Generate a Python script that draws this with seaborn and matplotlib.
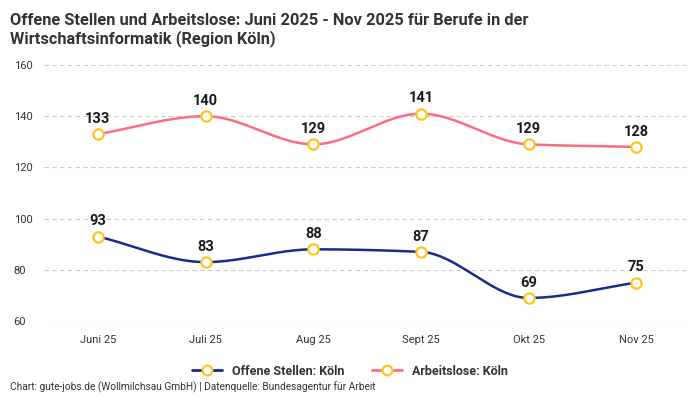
import numpy as np
import pandas as pd
import matplotlib
matplotlib.use("Agg")
import matplotlib.pyplot as plt
from matplotlib.lines import Line2D
import seaborn as sns

months = ["Juni 25", "Juli 25", "Aug 25", "Sept 25", "Okt 25", "Nov 25"]
offene_stellen = [93, 83, 88, 87, 69, 75]
arbeitslose = [133, 140, 129, 141, 129, 128]
series_names = ["Offene Stellen: Köln", "Arbeitslose: Köln"]
series_colors = ["#1b2a8f", "#ff6b86"]
marker_edge = "#ffc61a"


def monotone_curve(y, n=40):
    # Fritsch-Carlson monotone cubic, like a "smooth" line in web charts
    y = np.asarray(y, dtype=float)
    x = np.arange(len(y), dtype=float)
    d = np.diff(y)
    m = np.zeros_like(y)
    m[0], m[-1] = d[0], d[-1]
    for i in range(1, len(y) - 1):
        if d[i - 1] * d[i] <= 0:
            m[i] = 0
        else:
            m[i] = 2 / (1 / d[i - 1] + 1 / d[i])
    xs, ys = [], []
    for i in range(len(y) - 1):
        t = np.linspace(0, 1, n)
        h00 = 2 * t**3 - 3 * t**2 + 1
        h10 = t**3 - 2 * t**2 + t
        h01 = -2 * t**3 + 3 * t**2
        h11 = t**3 - t**2
        xs.extend(x[i] + t)
        ys.extend(h00 * y[i] + h10 * m[i] + h01 * y[i + 1] + h11 * m[i + 1])
    return np.array(xs), np.array(ys)


sns.set_style("white")
plt.rcParams["font.family"] = ["Roboto", "DejaVu Sans"]

fig = plt.figure(figsize=(7, 4), dpi=100)
ax = fig.add_axes([0.063, 0.1975, 0.923, 0.64])

for vals, name, col in zip([offene_stellen, arbeitslose], series_names, series_colors):
    cx, cy = monotone_curve(vals)
    curve = pd.DataFrame({"x": cx, "y": cy})
    sns.lineplot(data=curve, x="x", y="y", ax=ax, color=col, linewidth=1.8,
                 sort=False, estimator=None)
    pts = pd.DataFrame({"x": np.arange(len(vals)), "y": vals})
    sns.scatterplot(data=pts, x="x", y="y", ax=ax, s=55, color="white",
                    edgecolor=marker_edge, linewidth=1.6, zorder=5)
    for i, v in enumerate(vals):
        ax.annotate(str(v), (i, v), xytext=(0, 6), textcoords="offset points",
                    ha="center", va="bottom", fontsize=10.5, fontweight="semibold",
                    color="#1a1a1a")

ax.set_xlim(-0.5, len(months) - 0.5)
ax.set_ylim(60, 160)
ax.set_yticks(range(60, 161, 20))
ax.set_xticks(range(len(months)))
ax.set_xticklabels(months)
ax.set_xlabel("")
ax.set_ylabel("")
ax.tick_params(axis="both", length=0, labelsize=8, labelcolor="#333333")
ax.tick_params(axis="x", pad=10)
ax.tick_params(axis="y", pad=22)
for lbl in ax.get_yticklabels():
    lbl.set_horizontalalignment("left")
ax.grid(axis="y", color="#cccccc", linestyle=(0, (4, 3)), linewidth=0.8)
ax.grid(axis="x", visible=False)
sns.despine(ax=ax, left=True, bottom=True)
ax.set_clip_on(False)

handles = [Line2D([0], [0], color=c, linewidth=2, marker="o", markersize=7,
                  markerfacecolor="white", markeredgecolor=marker_edge,
                  markeredgewidth=1.6) for c in series_colors]
leg = fig.legend(handles, series_names, loc="center", bbox_to_anchor=(0.5, 0.072),
                 ncol=2, frameon=False, handlelength=2.4, columnspacing=2.2,
                 prop={"weight": "bold", "size": 9})
for t in leg.get_texts():
    t.set_color("#333333")

fig.text(0.014, 0.968, "Offene Stellen und Arbeitslose: Juni 2025 - Nov 2025 für Berufe in der\n"
         "Wirtschaftsinformatik (Region Köln)", ha="left", va="top", fontsize=11.8,
         fontweight="bold", color="#333333", linespacing=1.2)
fig.text(0.014, 0.017, "Chart: gute-jobs.de (Wollmilchsau GmbH) | Datenquelle: Bundesagentur für Arbeit",
         ha="left", va="bottom", fontsize=7.3, color="#333333")

fig.savefig("out.png", dpi=100)
